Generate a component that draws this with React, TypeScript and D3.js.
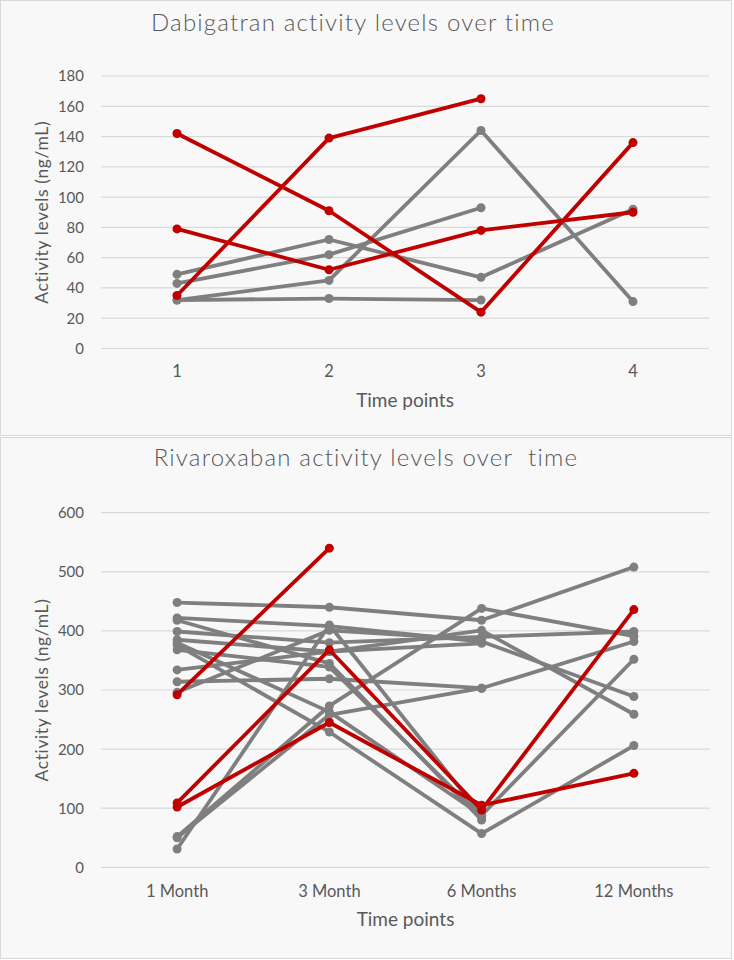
import React, { useEffect, useRef } from "react";
import * as d3 from "d3";

// ---------- Data ----------
const dabiTitle = "Dabigatran activity levels over time";
const dabiTimes = ["1", "2", "3", "4"];
const dabiTicks = [0, 20, 40, 60, 80, 100, 120, 140, 160, 180];
const dabiRed: (number | null)[][] = [
  [142, 91, 24, 136],
  [35, 139, 165, null],
  [79, 52, 78, 90],
];
const dabiGray: (number | null)[][] = [
  [32, 45, 144, 31],
  [49, 72, 47, 92],
  [43, 62, 93, null],
  [32, 33, 32, null],
];

const rivaTitle = "Rivaroxaban activity levels over  time";
const rivaTimes = ["1 Month", "3 Month", "6 Months", "12 Months"];
const rivaTicks = [0, 100, 200, 300, 400, 500, 600];
const rivaGray: (number | null)[][] = [
  [448, 440, 418, 508],
  [422, 408, 382, 289],
  [418, 345, 80, null],
  [399, 380, 390, 399],
  [385, 365, 379, null],
  [380, 263, 88, 352],
  [376, 229, 57, 206],
  [368, 339, 85, null],
  [334, 365, 401, 259],
  [314, 319, 303, 382],
  [296, 401, 385, null],
  [52, 273, 438, 391],
  [50, 258, 303, null],
  [31, 410, 88, null],
];
const rivaRed: (number | null)[][] = [
  [292, 540, null, null],
  [109, 368, 97, 436],
  [102, 245, 105, 159],
];

const yTitle = "Activity levels (ng/mL)";
const xTitle = "Time points";

const RED = "#c00000";
const GRAY = "#7f7f7f";
const TEXT = "#595959";
const GRID = "#d9d9d9";
const FONT = "Lato, 'Open Sans', sans-serif";

type PanelCfg = {
  top: number;
  height: number;
  title: string;
  titleX: number;
  titleY: number;
  times: string[];
  ticks: number[];
  yMax: number;
  yTop: number;
  yBottom: number;
  xLeft: number;
  xRight: number;
  xLabelY: number;
  xTitleY: number;
  gray: (number | null)[][];
  red: (number | null)[][];
};

function drawPanel(svg: d3.Selection<SVGSVGElement, unknown, null, undefined>, c: PanelCfg) {
  const g = svg.append("g");
  g.append("rect")
    .attr("x", 0.5)
    .attr("y", c.top + 0.5)
    .attr("width", 731)
    .attr("height", c.height)
    .attr("fill", "#f8f8f8")
    .attr("stroke", GRID)
    .attr("stroke-width", 1);

  const x = d3.scalePoint<string>().domain(c.times).range([c.xLeft, c.xRight]).padding(0.5);
  const y = d3.scaleLinear().domain([0, c.yMax]).range([c.yBottom, c.yTop]);

  // gridlines
  g.selectAll(".grid")
    .data(c.ticks)
    .enter()
    .append("line")
    .attr("x1", c.xLeft)
    .attr("x2", c.xRight)
    .attr("y1", (d) => y(d))
    .attr("y2", (d) => y(d))
    .attr("stroke", GRID)
    .attr("stroke-width", 1.2);

  // y tick labels
  g.selectAll(".ytl")
    .data(c.ticks)
    .enter()
    .append("text")
    .attr("x", 84)
    .attr("y", (d) => y(d))
    .attr("dy", "0.36em")
    .attr("text-anchor", "end")
    .attr("font-family", FONT)
    .attr("font-size", 15)
    .attr("fill", TEXT)
    .text((d) => String(d));

  // x tick labels
  g.selectAll(".xtl")
    .data(c.times)
    .enter()
    .append("text")
    .attr("x", (d) => x(d)!)
    .attr("y", c.xLabelY)
    .attr("text-anchor", "middle")
    .attr("font-family", FONT)
    .attr("font-size", 16.5)
    .attr("fill", TEXT)
    .text((d) => d);

  // titles
  g.append("text")
    .attr("x", c.titleX)
    .attr("y", c.titleY)
    .attr("text-anchor", "middle")
    .attr("font-family", FONT)
    .attr("font-weight", 300)
    .attr("font-size", 24)
    .attr("letter-spacing", 1.2)
    .attr("fill", TEXT)
    .style("white-space", "pre")
    .text(c.title);

  g.append("text")
    .attr("x", (c.xLeft + c.xRight) / 2)
    .attr("y", c.xTitleY)
    .attr("text-anchor", "middle")
    .attr("font-family", FONT)
    .attr("font-size", 19)
    .attr("fill", TEXT)
    .text(xTitle);

  const yc = (c.yTop + c.yBottom) / 2;
  g.append("text")
    .attr("transform", `translate(41,${yc}) rotate(-90)`)
    .attr("text-anchor", "middle")
    .attr("dominant-baseline", "central")
    .attr("font-family", FONT)
    .attr("font-size", 17.5)
    .attr("letter-spacing", 0.6)
    .attr("fill", TEXT)
    .text(yTitle);

  const line = d3
    .line<number | null>()
    .defined((d) => d != null)
    .x((_, i) => x(c.times[i])!)
    .y((d) => y(d as number));

  const drawSeries = (series: (number | null)[][], color: string) => {
    series.forEach((s) => {
      g.append("path")
        .attr("d", line(s)!)
        .attr("fill", "none")
        .attr("stroke", color)
        .attr("stroke-width", 3.8)
        .attr("stroke-linejoin", "round")
        .attr("stroke-linecap", "round");
      s.forEach((v, i) => {
        if (v == null) return;
        g.append("circle")
          .attr("cx", x(c.times[i])!)
          .attr("cy", y(v))
          .attr("r", 4.5)
          .attr("fill", color);
      });
    });
  };
  drawSeries(c.gray, GRAY);
  drawSeries(c.red, RED);
}

export default function App() {
  const ref = useRef<SVGSVGElement>(null);
  useEffect(() => {
    const svg = d3.select(ref.current!);
    svg.selectAll("*").remove();
    svg.append("rect").attr("width", 734).attr("height", 960).attr("fill", "#ffffff");
    drawPanel(svg, {
      top: 0,
      height: 435,
      title: dabiTitle,
      titleX: 353,
      titleY: 31,
      times: dabiTimes,
      ticks: dabiTicks,
      yMax: 180,
      yTop: 76,
      yBottom: 348.5,
      xLeft: 101,
      xRight: 709,
      xLabelY: 377,
      xTitleY: 407,
      gray: dabiGray,
      red: dabiRed,
    });
    drawPanel(svg, {
      top: 437,
      height: 521,
      title: rivaTitle,
      titleX: 366,
      titleY: 466,
      times: rivaTimes,
      ticks: rivaTicks,
      yMax: 600,
      yTop: 512.7,
      yBottom: 867.3,
      xLeft: 101,
      xRight: 710,
      xLabelY: 897,
      xTitleY: 926,
      gray: rivaGray,
      red: rivaRed,
    });
  }, []);
  return (
    <svg
      ref={ref}
      width={734}
      height={960}
      style={{ position: "absolute", left: 0, top: 0, display: "block" }}
    />
  );
}
